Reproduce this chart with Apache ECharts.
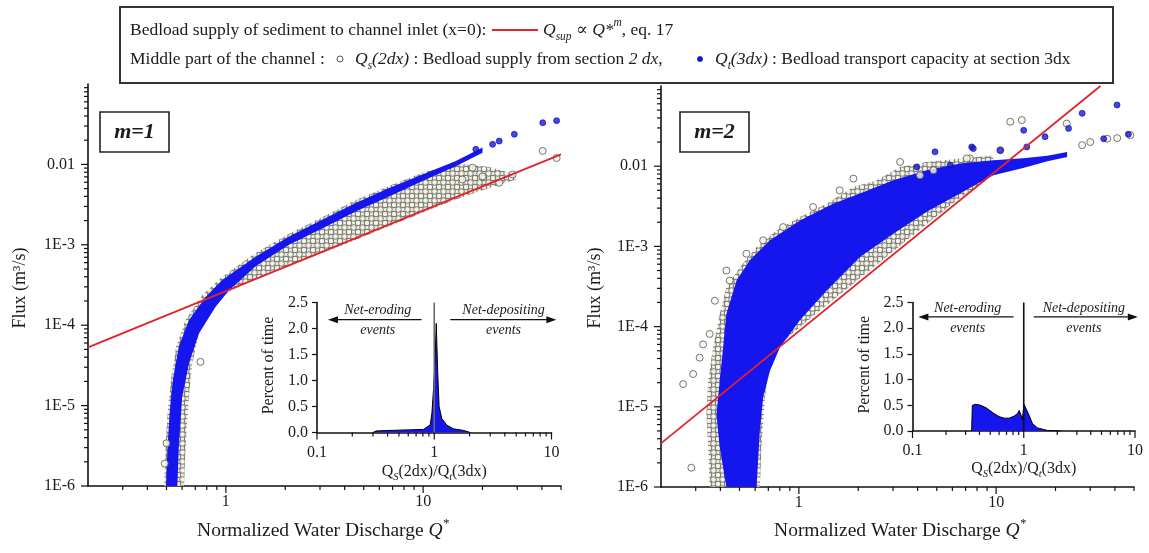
<!DOCTYPE html>
<html>
<head>
<meta charset="utf-8">
<script src="https://cdn.jsdelivr.net/npm/echarts/dist/echarts.min.js"></script>
<style>
  html, body { margin: 0; padding: 0; background: #fff; }
  #chart { width: 1149px; height: 553px; }
</style>
</head>
<body>
<div id="chart"></div>
<script>
// ---------------- m = 1 ----------------
// Bedload supply at the inlet, Q_sup ∝ Q*^1 (eq. 17)
const m1SupplyLine = [[0.2, 5.3e-5], [50, 1.33e-2]];
// Dense cloud of Qs(2dx): upper envelope (bottom -> top) and lower envelope (top -> bottom)
const m1SupplyUpper = [[0.486, 1e-6], [0.494, 3e-6], [0.506, 7.9e-6], [0.526, 2.05e-5], [0.56, 5.4e-5],
  [0.624, 1.15e-4], [0.758, 2.35e-4], [0.958, 4.0e-4], [1.415, 7.9e-4], [2.089, 1.37e-3], [3.08, 2.2e-3],
  [4.55, 3.6e-3], [6.72, 5.4e-3], [9.93, 7.9e-3], [14.65, 1.04e-2], [21.6, 9.3e-3], [29.6, 7.5e-3]];
const m1SupplyLower = [[29.6, 6.5e-3], [21.6, 5.1e-3], [14.65, 3.65e-3], [9.93, 2.5e-3], [6.72, 1.7e-3],
  [4.55, 1.15e-3], [3.08, 7.9e-4], [2.089, 5.4e-4], [1.415, 3.8e-4], [1.036, 2.6e-4], [0.887, 1.95e-4],
  [0.789, 1.4e-4], [0.73, 7.9e-5], [0.675, 3.3e-5], [0.649, 1.27e-5], [0.632, 4.9e-6], [0.619, 1.87e-6],
  [0.614, 1e-6]];
// Dense band of Qt(3dx)
const m1CapacityUpper = [[0.497, 1e-6], [0.506, 3.0e-6], [0.518, 7.9e-6], [0.538, 2.05e-5], [0.577, 5.4e-5],
  [0.649, 1.15e-4], [0.789, 2.25e-4], [0.958, 3.65e-4], [1.415, 7.1e-4], [2.089, 1.27e-3], [3.08, 2.05e-3],
  [4.55, 3.3e-3], [6.72, 5.1e-3], [9.93, 7.5e-3], [14.65, 1.1e-2], [20, 1.62e-2]];
const m1CapacityLower = [[20, 1.4e-2], [14.65, 9.5e-3], [9.93, 6.2e-3], [6.72, 4.0e-3], [4.55, 2.6e-3],
  [3.08, 1.6e-3], [2.089, 1.0e-3], [1.415, 5.4e-4], [1.036, 2.7e-4], [0.887, 1.7e-4], [0.73, 7.9e-5],
  [0.649, 3.3e-5], [0.60, 1.27e-5], [0.577, 3.0e-6], [0.568, 1e-6]];
// Isolated points
const m1SupplyPoints = [[17.8, 9.1e-3], [40.4, 1.47e-2], [47.5, 1.2e-2], [28.4, 7.5e-3], [24.3, 5.9e-3],
  [20, 7.1e-3], [15.8, 6.5e-3], [0.743, 3.5e-5], [0.49, 1.9e-6], [0.5, 3.4e-6]];
const m1CapacityPoints = [[24.3, 1.95e-2], [29.0, 2.37e-2], [40.4, 3.3e-2], [47.5, 3.5e-2], [22.5, 1.78e-2],
  [18.5, 1.54e-2]];
// Inset: percent of time vs Qs(2dx)/Qt(3dx)
const m1Ratio   = [0.30, 0.32, 0.42, 0.585, 0.81, 0.925, 0.955, 0.987, 1.02, 1.04, 1.07, 1.10, 1.16, 1.28, 1.46, 1.78, 2.03];
const m1Percent = [0.0, 0.03, 0.04, 0.05, 0.06, 0.15, 0.37, 0.85, 1.49, 2.1, 1.17, 0.5, 0.27, 0.14, 0.07, 0.04, 0.0];

// ---------------- m = 2 ----------------
const m2SupplyLine = [[0.2, 3.5e-6], [33.8, 0.1]];
const m2SupplyUpper = [[0.353, 1e-6], [0.347, 3.1e-6], [0.34, 8.1e-6], [0.347, 2.1e-5], [0.367, 5.5e-5],
  [0.397, 1.44e-4], [0.429, 3.1e-4], [0.502, 5.5e-4], [0.61, 9.8e-4], [0.77, 1.58e-3], [1.012, 2.33e-3],
  [1.38, 3.4e-3], [1.89, 5.5e-3], [2.48, 6.7e-3], [3.26, 9.8e-3], [4.45, 1.13e-2], [6.56, 1.25e-2],
  [9.69, 1.37e-2]];
const m2SupplyLower = [[9.69, 7.9e-3], [6.56, 4.0e-3], [4.45, 1.9e-3], [3.01, 8.7e-4], [2.04, 4.0e-4],
  [1.38, 1.85e-4], [1.012, 9.9e-5], [0.832, 6.5e-5], [0.713, 3.4e-5], [0.672, 1.31e-5], [0.646, 3.1e-6],
  [0.634, 1e-6]];
const m2CapacityUpper = [[0.429, 1e-6], [0.397, 3.1e-6], [0.382, 8.1e-6], [0.397, 2.1e-5], [0.413, 5.5e-5],
  [0.429, 1.44e-4], [0.483, 3.76e-4], [0.564, 6.7e-4], [0.713, 1.19e-3], [1.012, 2.1e-3], [1.49, 3.4e-3],
  [2.04, 4.56e-3], [3.01, 6.7e-3], [4.45, 8.9e-3], [6.56, 1.08e-2], [9.69, 1.19e-2], [13.7, 1.26e-2],
  [18.2, 1.35e-2], [22.9, 1.5e-2]];
const m2CapacityLower = [[22.9, 1.3e-2], [18.2, 1.15e-2], [13.7, 9.5e-3], [9.69, 7.7e-3], [7.98, 6.0e-3],
  [6.56, 4.56e-3], [4.45, 2.7e-3], [3.01, 1.44e-3], [2.04, 7.4e-4], [1.38, 2.8e-4], [1.012, 1.2e-4],
  [0.801, 5.5e-5], [0.713, 2.8e-5], [0.659, 1.31e-5], [0.634, 5e-6], [0.61, 1e-6]];
const m2SupplyPoints = [[0.259, 1.92e-5], [0.291, 2.56e-5], [0.285, 1.74e-6], [0.314, 4.1e-5], [0.327, 6.0e-5],
  [0.353, 8.1e-5], [0.375, 2.1e-4], [0.446, 3.76e-4], [0.429, 5.0e-4], [0.542, 8.1e-4], [0.659, 1.19e-3],
  [0.832, 1.74e-3], [1.18, 3.1e-3], [1.61, 5.0e-3], [1.89, 7.0e-3], [3.26, 1.13e-2], [4.11, 7.7e-3],
  [4.81, 8.9e-3], [7.38, 1.25e-2], [10.5, 1.58e-2], [11.8, 3.58e-2], [13.5, 3.76e-2], [22.8, 3.4e-2],
  [30.0, 2.0e-2], [47.9, 2.44e-2], [27.3, 1.83e-2], [36.6, 2.2e-2], [41.1, 2.24e-2], [7.1, 1.25e-2]];
const m2CapacityPoints = [[27.3, 4.56e-2], [41.0, 5.8e-2], [13.8, 2.8e-2], [23.3, 2.96e-2], [17.7, 2.33e-2],
  [14.3, 1.74e-2], [7.52, 1.74e-2], [4.90, 1.51e-2], [3.96, 9.8e-3], [5.84, 1.03e-2], [35.1, 2.2e-2],
  [46.8, 2.5e-2], [10.5, 1.58e-2], [7.66, 1.66e-2]];
const m2Ratio   = [0.34, 0.345, 0.37, 0.41, 0.46, 0.54, 0.60, 0.665, 0.74, 0.82, 0.88, 0.91, 0.95, 0.973, 0.99, 1.006, 1.04, 1.12, 1.20, 1.33, 1.64, 2.15];
const m2Percent = [0.0, 0.50, 0.52, 0.50, 0.45, 0.34, 0.28, 0.25, 0.25, 0.29, 0.34, 0.40, 0.30, 0.22, 0.40, 0.52, 0.45, 0.30, 0.14, 0.06, 0.01, 0.0];

// ---------------- ticks ----------------
const qTicks = [1, 10];
const qTickLabels = ['1', '10'];
const fluxTicks = [1e-6, 1e-5, 1e-4, 1e-3, 0.01];
const fluxTickLabels = ['1E-6', '1E-5', '1E-4', '1E-3', '0.01'];
const ratioTicks = [0.1, 1, 10];
const ratioTickLabels = ['0.1', '1', '10'];

// minor log ticks inside (lo, hi]
function logMinors(lo, hi) {
  const out = [];
  for (let e = -7; e <= 2; e++) {
    for (let k = 2; k <= 9; k++) {
      const v = k * Math.pow(10, e);
      if (v > lo * 1.0001 && v <= hi * 1.0001) out.push(v);
    }
  }
  return out;
}

const SERIF = '"Liberation Serif", "DejaVu Serif", serif';
const BLUE = '#1515ee';
const RED = '#e1232b';
const MAJOR = 7, MINOR = 4;

function ringTile() {
  const c = document.createElement('canvas');
  c.width = 9; c.height = 9;
  const g = c.getContext('2d');
  g.fillStyle = '#f3f3e8';
  g.fillRect(0, 0, 9, 9);
  g.strokeStyle = '#6d6d66';
  g.lineWidth = 1;
  [[2.5, 2.5], [7, 7], [7, -2], [-2, 7], [11.5, 2.5], [2.5, 11.5]].forEach(([cx, cy]) => {
    g.beginPath(); g.arc(cx, cy, 2.8, 0, Math.PI * 2); g.stroke();
  });
  return c;
}
const ringFill = { image: ringTile(), repeat: 'repeat' };

const zip = (xs, ys) => xs.map((x, i) => [x, ys[i]]);

function regionSeries(gi, pts, fill) {
  return {
    type: 'custom', xAxisIndex: gi, yAxisIndex: gi, silent: true, clip: true, z: 2,
    data: pts,
    renderItem(params, api) {
      if (params.dataIndex !== 0) return null;
      return { type: 'polygon', shape: { points: pts.map(p => api.coord(p)) }, style: { fill } };
    }
  };
}

function xTickSeries(gi, majors, labels, minors, yAt, font, gap) {
  const data = majors.map(v => [v, yAt, 1]).concat(minors.map(v => [v, yAt, 0]));
  return {
    type: 'custom', xAxisIndex: gi, yAxisIndex: gi, silent: true, z: 6, clip: false,
    data,
    renderItem(params, api) {
      const cs = params.coordSys;
      const x = api.coord([api.value(0), api.value(1)])[0];
      const y0 = cs.y + cs.height;
      const major = api.value(2) === 1;
      const kids = [{ type: 'line', shape: { x1: x, y1: y0, x2: x, y2: y0 + (major ? MAJOR : MINOR) },
        style: { stroke: '#111', lineWidth: 1.2 } }];
      if (major) kids.push({ type: 'text', style: { text: labels[params.dataIndex], x, y: y0 + gap,
        align: 'center', verticalAlign: 'middle', font, fill: '#1b1b1b' } });
      return { type: 'group', children: kids };
    }
  };
}

function yTickSeries(gi, majors, labels, minors, xAt, font, gap) {
  const data = majors.map(v => [xAt, v, 1]).concat(minors.map(v => [xAt, v, 0]));
  return {
    type: 'custom', xAxisIndex: gi, yAxisIndex: gi, silent: true, z: 6, clip: false,
    data,
    renderItem(params, api) {
      const cs = params.coordSys;
      const y = api.coord([api.value(0), api.value(1)])[1];
      const x0 = cs.x;
      const major = api.value(2) === 1;
      const kids = [{ type: 'line', shape: { x1: x0 - (major ? MAJOR : MINOR), y1: y, x2: x0, y2: y },
        style: { stroke: '#111', lineWidth: 1.2 } }];
      if (major) kids.push({ type: 'text', style: { text: labels[params.dataIndex], x: x0 - gap, y,
        align: 'right', verticalAlign: 'middle', font, fill: '#1b1b1b' } });
      return { type: 'group', children: kids };
    }
  };
}

const axisLine = { show: true, lineStyle: { color: '#111', width: 1.6 } };
function logAxis(gi, min, max) {
  return { type: 'log', logBase: 10, gridIndex: gi, min, max,
    axisLine, axisTick: { show: false }, axisLabel: { show: false }, splitLine: { show: false } };
}
function percentAxis(gi) {
  return { type: 'value', gridIndex: gi, min: 0, max: 2.5, interval: 0.5,
    axisLine, axisTick: { show: true, length: 5, lineStyle: { color: '#111', width: 1.2 } },
    minorTick: { show: false },
    axisLabel: { show: true, margin: 9, fontSize: 16, fontFamily: SERIF, color: '#1b1b1b',
      formatter: v => v.toFixed(1) },
    splitLine: { show: false } };
}

const supplyDot = { color: '#f7f7ec', borderColor: '#555', borderWidth: 1 };
const capacityDot = { color: BLUE, borderColor: '#0a0a80', borderWidth: 0.8 };

function mainSeries(gi, supUp, supLo, capUp, capLo, supPts, capPts, line) {
  return [
    regionSeries(gi, supUp.concat(supLo), ringFill),
    regionSeries(gi, capUp.concat(capLo), BLUE),
    { type: 'scatter', xAxisIndex: gi, yAxisIndex: gi, data: supPts, symbol: 'circle', symbolSize: 7,
      itemStyle: supplyDot, z: 3, silent: true },
    { type: 'scatter', xAxisIndex: gi, yAxisIndex: gi, data: capPts, symbol: 'circle', symbolSize: 6,
      itemStyle: capacityDot, z: 3, silent: true },
    { type: 'line', xAxisIndex: gi, yAxisIndex: gi, data: line, symbol: 'none', z: 4, silent: true,
      lineStyle: { color: RED, width: 1.8 } },
    xTickSeries(gi, qTicks, qTickLabels, logMinors(0.2, 50), 1e-6, '16px ' + SERIF, 16),
    yTickSeries(gi, fluxTicks, fluxTickLabels, logMinors(1e-6, 0.1), 0.2, '16px ' + SERIF, 13)
  ];
}

function insetSeries(gi, ratio, percent, markColor) {
  return [
    { type: 'line', xAxisIndex: gi, yAxisIndex: gi, data: zip(ratio, percent), symbol: 'none', z: 3,
      silent: true, lineStyle: { color: '#000', width: 1 }, areaStyle: { color: BLUE, opacity: 1 } },
    { type: 'line', xAxisIndex: gi, yAxisIndex: gi, data: [[1, 0], [1, 2.5]], symbol: 'none', z: 4,
      silent: true, lineStyle: { color: markColor, width: 1.6 } },
    xTickSeries(gi, ratioTicks, ratioTickLabels, logMinors(0.1, 10), 0, '16px ' + SERIF, 20)
  ];
}

const chart = echarts.init(document.getElementById('chart'), null, { renderer: 'canvas' });

const option = {
  animation: false,
  backgroundColor: '#fff',
  textStyle: { fontFamily: SERIF },
  grid: [
    { left: 88, top: 84, width: 473, height: 402 },
    { left: 317, top: 302.5, width: 234.5, height: 130 },
    { left: 661, top: 86, width: 473, height: 401 },
    { left: 912.5, top: 302.5, width: 222.5, height: 128.5 }
  ],
  xAxis: [logAxis(0, 0.2, 50), logAxis(1, 0.1, 10), logAxis(2, 0.2, 50), logAxis(3, 0.1, 10)],
  yAxis: [logAxis(0, 1e-6, 0.1), percentAxis(1), logAxis(2, 1e-6, 0.1), percentAxis(3)],
  series: [].concat(
    mainSeries(0, m1SupplyUpper, m1SupplyLower, m1CapacityUpper, m1CapacityLower, m1SupplyPoints, m1CapacityPoints, m1SupplyLine),
    insetSeries(1, m1Ratio, m1Percent, '#6a6a6a'),
    mainSeries(2, m2SupplyUpper, m2SupplyLower, m2CapacityUpper, m2CapacityLower, m2SupplyPoints, m2CapacityPoints, m2SupplyLine),
    insetSeries(3, m2Ratio, m2Percent, '#111')
  )
};
chart.setOption(option);

// ---------- titles, legend box, panel tags, inset annotations ----------
function richStyles(size) {
  const s = size / 16;
  return {
    n: { fontSize: 16 * s, fontFamily: SERIF, lineHeight: 22 * s, verticalAlign: 'middle' },
    it: { fontSize: 16 * s, fontFamily: SERIF, fontStyle: 'italic', lineHeight: 22 * s, verticalAlign: 'middle' },
    sub: { fontSize: 10.5 * s, fontFamily: SERIF, fontStyle: 'italic', lineHeight: 10 * s, verticalAlign: 'bottom' },
    sup: { fontSize: 10.5 * s, fontFamily: SERIF, fontStyle: 'italic', lineHeight: 10 * s, verticalAlign: 'top' }
  };
}
function txt(x, y, text, extra) {
  return { type: 'text', x, y, z: 100, silent: true,
    style: Object.assign({ text, fill: '#1b1b1b', font: '16px ' + SERIF, align: 'left', verticalAlign: 'middle' },
      extra || {}) };
}
function richTxt(x, y, text, size, align) {
  return { type: 'text', x, y, z: 100, silent: true,
    style: { text, rich: richStyles(size), fill: '#1b1b1b', align: align || 'left', verticalAlign: 'middle' } };
}

function panelDecor(xMid, yAxisTitleX, tagX, tagText, insetGi, inset) {
  const els = [];
  els.push(richTxt(xMid, 531, '{n|Normalized Water Discharge }{it|Q}{sup|*}', 19.5, 'center'));
  const yt = txt(yAxisTitleX, 288, 'Flux (m\u00B3/s)', { font: '18px ' + SERIF, align: 'center' });
  yt.rotation = Math.PI / 2;
  els.push(yt);
  els.push({ type: 'rect', z: 100, silent: true, shape: { x: tagX, y: 112, width: 69, height: 40 },
    style: { fill: '#fff', stroke: '#222', lineWidth: 1.6 } });
  els.push(txt(tagX + 34.5, 132, tagText, { font: 'italic bold 22px ' + SERIF, align: 'center' }));

  const P = v => chart.convertToPixel({ gridIndex: insetGi }, v);
  els.push(richTxt(P([1, 0])[0], inset.titleY, '{n|Q}{sub|S}{n|(2dx)/Q}{sub|t}{n|(3dx)}', 16, 'center'));
  const axisLeft = P([0.1, 0])[0];
  const t = txt(axisLeft - 48, (P([0.1, 0])[1] + P([0.1, 2.5])[1]) / 2 - 2, 'Percent of time',
    { font: '16px ' + SERIF, align: 'center' });
  t.rotation = Math.PI / 2;
  els.push(t);

  const arrow = (a, b) => {
    const pa = P(a), pb = P(b);
    const dir = pb[0] > pa[0] ? 1 : -1;
    els.push({ type: 'line', z: 100, silent: true,
      shape: { x1: pa[0], y1: pa[1], x2: pb[0] - dir * 6, y2: pb[1] }, style: { stroke: '#111', lineWidth: 1.4 } });
    els.push({ type: 'polygon', z: 100, silent: true,
      shape: { points: [[pb[0], pb[1]], [pb[0] - dir * 10, pb[1] - 3.5], [pb[0] - dir * 10, pb[1] + 3.5]] },
      style: { fill: '#111' } });
  };
  arrow([inset.erodeFrom, inset.arrowY], [inset.erodeTo, inset.arrowY]);
  arrow([inset.depoFrom, inset.arrowY], [inset.depoTo, inset.arrowY]);
  const ay = P([1, inset.arrowY])[1];
  const noteFont = 'italic 14px ' + SERIF;
  els.push(txt(P([inset.erodeMid, 0])[0], ay - 9, 'Net-eroding', { font: noteFont, align: 'center' }));
  els.push(txt(P([inset.erodeMid, 0])[0], ay + 11, 'events', { font: noteFont, align: 'center' }));
  els.push(txt(P([inset.depoMid, 0])[0], ay - 9, 'Net-depositing', { font: noteFont, align: 'center' }));
  els.push(txt(P([inset.depoMid, 0])[0], ay + 11, 'events', { font: noteFont, align: 'center' }));
  return els;
}

const LEG = 17.5;
const legendEls = [
  { type: 'rect', z: 99, silent: true, shape: { x: 120, y: 7, width: 993, height: 76 },
    style: { fill: '#fff', stroke: '#333', lineWidth: 2 } },
  txt(130, 30, 'Bedload supply of sediment to channel inlet (x=0):', { font: LEG + 'px ' + SERIF }),
  { type: 'line', z: 100, silent: true, shape: { x1: 492, y1: 30, x2: 538, y2: 30 },
    style: { stroke: RED, lineWidth: 2 } },
  richTxt(543, 30, '{it|Q}{sub|sup}{n| \u221D }{it|Q*}{sup|m}{n|, eq. 17}', LEG),
  txt(130, 59, 'Middle part of the channel :', { font: LEG + 'px ' + SERIF }),
  { type: 'circle', z: 100, silent: true, shape: { cx: 340, cy: 59, r: 3 },
    style: { fill: '#fff', stroke: '#555', lineWidth: 1 } },
  richTxt(355, 59, '{it|Q}{sub|s}{it|(2dx)}{n| : Bedload supply from section }{it|2 dx}{n|,}', LEG),
  { type: 'circle', z: 100, silent: true, shape: { cx: 700, cy: 59, r: 2.6 },
    style: { fill: BLUE, stroke: '#0a0a80', lineWidth: 0.6 } },
  richTxt(715, 59, '{it|Q}{sub|t}{it|(3dx)}{n| : Bedload transport capacity at section 3dx}', LEG)
];

const graphic = legendEls.concat(
  panelDecor(323, 20, 100, 'm=1', 1,
    { titleY: 472, arrowY: 2.17, erodeFrom: 0.78, erodeTo: 0.124, depoFrom: 1.37, depoTo: 11,
      erodeMid: 0.33, depoMid: 3.9 }),
  panelDecor(900, 595, 680, 'm=2', 3,
    { titleY: 469, arrowY: 2.22, erodeFrom: 0.81, erodeTo: 0.113, depoFrom: 1.23, depoTo: 10.6,
      erodeMid: 0.313, depoMid: 3.47 })
);
chart.setOption({ graphic });
</script>
</body>
</html>
